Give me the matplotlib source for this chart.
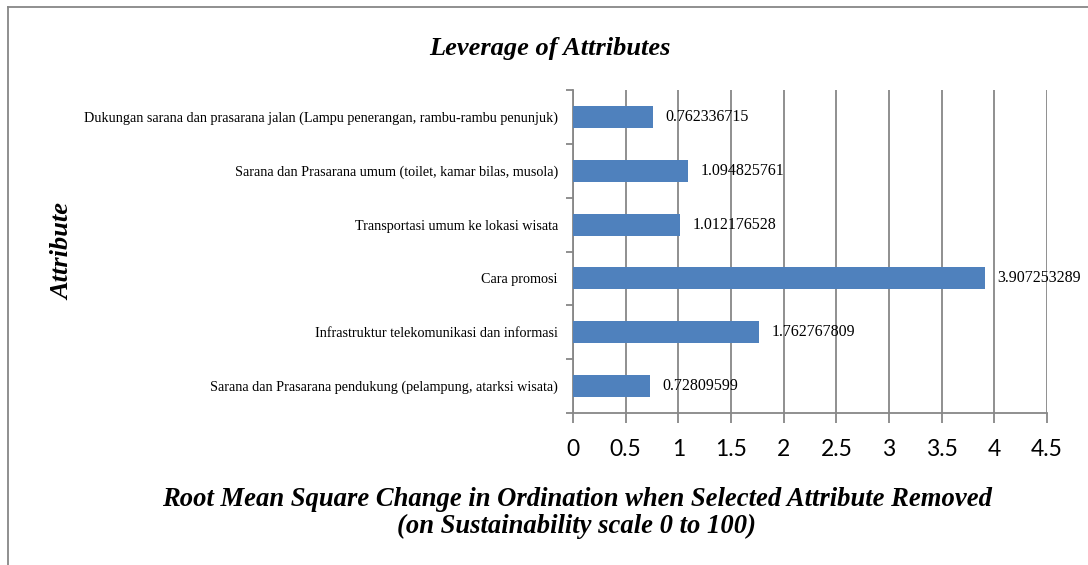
import matplotlib.pyplot as plt
from matplotlib.lines import Line2D

# ---------------------------------------------------------
# DATA (bottom to top)
# ---------------------------------------------------------
attributes = [
    "Sarana dan Prasarana pendukung (pelampung, atarksi wisata)",
    "Infrastruktur telekomunikasi dan informasi",
    "Cara promosi",
    "Transportasi umum ke lokasi wisata",
    "Sarana dan Prasarana umum (toilet, kamar bilas, musola)",
    "Dukungan sarana dan prasarana jalan (Lampu penerangan, rambu-rambu penunjuk)",
]
rms_change = [0.72809599, 1.762767809, 3.907253289, 1.012176528, 1.094825761, 0.762336715]
value_labels = ["0.72809599", "1.762767809", "3.907253289", "1.012176528", "1.094825761", "0.762336715"]
x_ticks = [0, 0.5, 1, 1.5, 2, 2.5, 3, 3.5, 4, 4.5]
x_ticklabels = ["0", "0.5", "1", "1.5", "2", "2.5", "3", "3.5", "4", "4.5"]

BAR_COLOR = "#4F81BD"
GRID_COLOR = "#878787"
SERIF = "Liberation Serif"

# ---------------------------------------------------------
# PLOT
# ---------------------------------------------------------
fig = plt.figure(figsize=(10.88, 5.65), dpi=100)
ax = fig.add_axes([0.5267, 0.269, 0.4356, 0.5717])

ypos = list(range(len(attributes)))
ax.barh(ypos, rms_change, height=0.41, color=BAR_COLOR, zorder=3)

for y, v, lab in zip(ypos, rms_change, value_labels):
    ax.annotate(lab, (v, y), xytext=(9, 0), textcoords="offset points",
                ha="left", va="center", fontsize=11.5, family=SERIF, zorder=4)

ax.set_xlim(0, 4.5)
ax.set_ylim(-0.5, len(attributes) - 0.5)
ax.set_xticks(x_ticks)
ax.set_xticklabels(x_ticklabels, fontsize=16.5, family="Lato")
ax.set_yticks(ypos)
ax.set_yticklabels(attributes, fontsize=10.2, family=SERIF)
ax.tick_params(axis="y", length=0, pad=11)
ax.tick_params(axis="x", length=7, width=1.3, color=GRID_COLOR, pad=12)

# category boundary ticks on the y axis
ax.set_yticks([i - 0.5 for i in range(len(attributes) + 1)], minor=True)
ax.tick_params(axis="y", which="minor", length=5, width=1.3, color=GRID_COLOR)

ax.grid(axis="x", color=GRID_COLOR, linewidth=1.3, zorder=0)
for s in ["top", "right"]:
    ax.spines[s].set_visible(False)
for s in ["left", "bottom"]:
    ax.spines[s].set_color(GRID_COLOR)
    ax.spines[s].set_linewidth(1.3)

fig.text(0.505, 0.915, "Leverage of Attributes", ha="center", va="center",
         fontsize=19, fontweight="bold", fontstyle="italic", family=SERIF)
fig.text(0.058, 0.555, "Attribute", ha="center", va="center", rotation=90,
         fontsize=19, fontweight="bold", fontstyle="italic", family=SERIF)
fig.text(0.53, 0.092, "Root Mean Square Change in Ordination when Selected Attribute Removed\n"
         "(on Sustainability scale 0 to 100)", ha="center", va="center",
         fontsize=19.2, fontweight="bold", fontstyle="italic", family=SERIF, linespacing=1.12)

# outer chart frame (left and top edges)
fig.add_artist(Line2D([0.0074, 0.0074], [0, 0.9876], transform=fig.transFigure,
                      color=GRID_COLOR, linewidth=1.3))
fig.add_artist(Line2D([0.0074, 1.0], [0.9876, 0.9876], transform=fig.transFigure,
                      color=GRID_COLOR, linewidth=1.3))

fig.savefig("out.png", dpi=100)
plt.close(fig)
